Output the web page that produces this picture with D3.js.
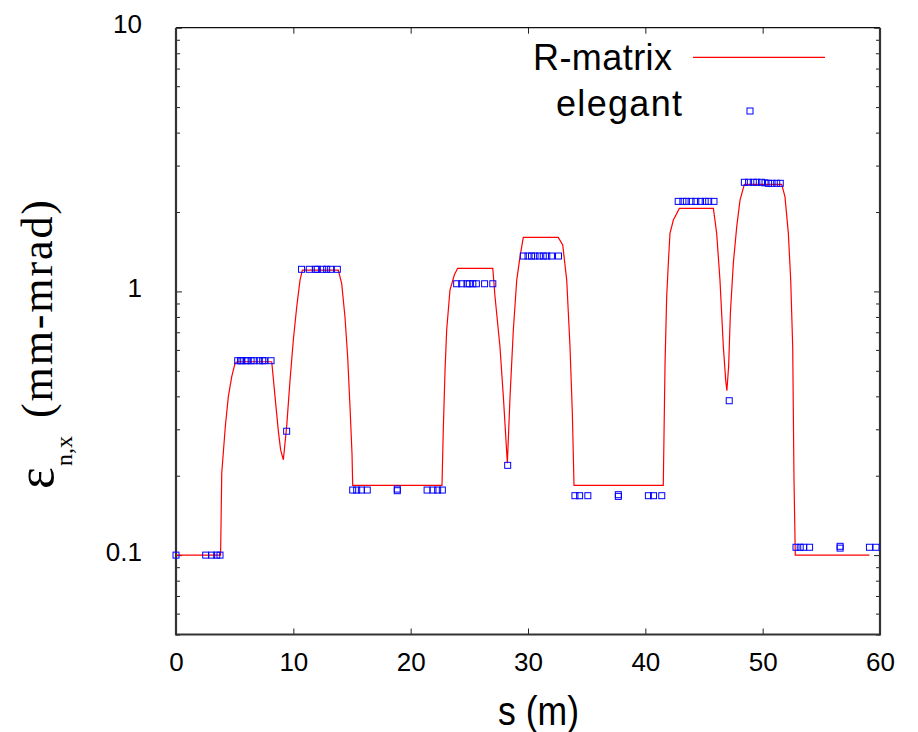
<!DOCTYPE html>
<html>
<head>
<meta charset="utf-8">
<script src="https://cdn.jsdelivr.net/npm/d3@7"></script>
<style>
  body { margin: 0; background: #fff; }
  svg { display: block; }
</style>
</head>
<body>
<div id="chart"></div>
<script>
// R-matrix curve (s in m, emittance in mm-mrad)
var rmatrixS = [0, 3.8, 3.9, 4.2, 4.46, 4.75, 5.03, 5.2, 8.16, 8.44, 8.72, 8.92, 9.15, 9.43, 9.72, 10.0, 10.29, 10.57, 10.77,
  13.83, 14.12, 14.4, 14.63, 14.83, 15.0, 15.06, 22.67, 22.78, 22.93, 23.07, 23.35, 23.72, 24.0, 27.0, 27.19, 27.61, 27.9,
  28.24, 28.47, 28.75, 29.04, 29.32, 29.6, 32.58, 32.96, 33.3, 33.58, 33.78, 33.92, 41.53, 41.68, 41.82, 41.96, 42.1, 42.39,
  42.9, 45.8, 46.08, 46.36, 46.65, 46.85, 46.95, 47.1, 47.25, 47.5, 47.79, 48.07, 48.44, 51.62, 51.9, 52.19, 52.39, 52.56,
  52.67, 52.78, 59.1];
var rmatrixE = [0.1, 0.1, 0.205, 0.306, 0.399, 0.475, 0.534, 0.541, 0.541, 0.399, 0.296, 0.25, 0.23, 0.307, 0.461, 0.654, 0.875, 1.104, 1.205,
  1.205, 1.073, 0.802, 0.565, 0.365, 0.243, 0.184, 0.184, 0.298, 0.503, 0.714, 1.012, 1.154, 1.223, 1.223, 0.954, 0.617, 0.399,
  0.223, 0.399, 0.714, 1.104, 1.354, 1.603, 1.603, 1.499, 1.104, 0.617, 0.345, 0.184, 0.184, 0.534, 0.954, 1.279, 1.66, 1.865,
  2.065, 2.065, 1.66, 1.104, 0.617, 0.46, 0.42, 0.52, 0.83, 1.28, 1.76, 2.22, 2.547, 2.547, 2.286, 1.66, 1.104, 0.617,
  0.193, 0.1, 0.1];

// elegant points
var elegantS = [0, 2.53, 3.04, 3.47, 3.75,
  5.26, 5.5, 5.62, 5.97, 6.08, 6.4, 6.67, 7.1, 7.39, 7.53, 8.1,
  9.43,
  10.7, 11.36, 11.9, 12.04, 12.5, 12.84, 13.18, 13.75,
  15.06, 15.4, 15.8, 16.3, 18.86, 18.86, 21.4, 21.9, 22.3, 22.7,
  23.92, 24.35, 24.8, 25.0, 25.3, 25.6, 26.3, 27.0,
  28.27,
  29.6, 30.0, 30.3, 30.6, 30.97, 31.3, 31.6, 32.0, 32.6,
  34.0, 34.4, 35.1, 37.7, 37.7, 40.26, 40.7, 41.4,
  42.8, 43.2, 43.5, 43.9, 44.3, 44.7, 45.1, 45.4, 45.85,
  47.15,
  48.44, 48.8, 49.2, 49.5, 49.9, 50.2, 50.5, 50.8, 51.2, 51.5,
  52.84, 53.2, 53.5, 54.0, 56.6, 56.6, 59.1, 59.66];
var elegantE = [0.1, 0.1, 0.1, 0.1, 0.1,
  0.546, 0.546, 0.546, 0.546, 0.546, 0.546, 0.546, 0.546, 0.546, 0.546, 0.546,
  0.295,
  1.213, 1.213, 1.213, 1.213, 1.213, 1.213, 1.213, 1.213,
  0.1765, 0.1765, 0.1765, 0.1765, 0.1755, 0.178, 0.1765, 0.1765, 0.1765, 0.1765,
  1.069, 1.069, 1.069, 1.069, 1.069, 1.069, 1.069, 1.069,
  0.219,
  1.362, 1.362, 1.362, 1.362, 1.362, 1.362, 1.362, 1.362, 1.362,
  0.168, 0.168, 0.168, 0.167, 0.1695, 0.168, 0.168, 0.168,
  2.195, 2.195, 2.195, 2.195, 2.195, 2.195, 2.195, 2.195, 2.195,
  0.385,
  2.593, 2.593, 2.593, 2.593, 2.593, 2.58, 2.57, 2.57, 2.57, 2.57,
  0.1071, 0.1071, 0.1071, 0.1071, 0.1063, 0.108, 0.1071, 0.1071];

var xTicks = [0, 10, 20, 30, 40, 50, 60];
var yMajor = [0.1, 1, 10];
var yMinor = [0.05, 0.06, 0.07, 0.08, 0.09, 0.2, 0.3, 0.4, 0.5, 0.6, 0.7, 0.8, 0.9, 2, 3, 4, 5, 6, 7, 8, 9];
var legendNames = ["R-matrix", "elegant"];

var width = 918, height = 732;
var margin = { left: 176, right: 880, top: 27.7, bottom: 634.5 };
var sans = "'Liberation Sans', Arial, sans-serif";
var serif = "'Liberation Serif', 'Times New Roman', serif";

var svg = d3.select("#chart").append("svg")
    .attr("width", width)
    .attr("height", height)
    .style("background", "#fff");

var x = d3.scaleLinear().domain([0, 60]).range([margin.left, margin.right]);
var y = d3.scaleLog().domain([0.05, 10]).range([margin.bottom, margin.top]);

function plainTicks(g) {
    g.select(".domain").remove();
    g.selectAll("line").attr("stroke", "#222");
}

// axes (ticks pointing inward)
svg.append("g")
    .attr("transform", "translate(0," + margin.bottom + ")")
    .call(d3.axisBottom(x).tickValues(xTicks).tickSize(-6).tickPadding(18).tickFormat(d3.format("d")))
    .call(function (g) {
        plainTicks(g);
        g.attr("font-size", null).attr("font-family", null);
        g.selectAll("text").style("font-family", sans).style("font-size", "26px").attr("fill", "#000");
        g.selectAll(".tick").filter(function (d) { return d === 0 || d === 60; }).select("line").remove();
    });

svg.append("g")
    .attr("transform", "translate(0," + margin.top + ")")
    .call(d3.axisTop(x).tickValues(xTicks.slice(1, -1)).tickSize(-6).tickFormat(""))
    .call(plainTicks);

svg.append("g")
    .attr("transform", "translate(" + margin.left + ",0)")
    .call(d3.axisLeft(y).tickValues(yMajor).tickSize(-6).tickPadding(34).tickFormat(d3.format("~g")))
    .call(function (g) {
        plainTicks(g);
        g.attr("font-size", null).attr("font-family", null);
        g.selectAll("text").style("font-family", sans).style("font-size", "26px").attr("fill", "#000").attr("dy", "0.2em");
    });

svg.append("g")
    .attr("transform", "translate(" + margin.left + ",0)")
    .call(d3.axisLeft(y).tickValues(yMinor).tickSize(-4).tickFormat(""))
    .call(plainTicks);

svg.append("g")
    .attr("transform", "translate(" + margin.right + ",0)")
    .call(d3.axisRight(y).tickValues(yMajor).tickSize(-6).tickFormat(""))
    .call(plainTicks);

svg.append("g")
    .attr("transform", "translate(" + margin.right + ",0)")
    .call(d3.axisRight(y).tickValues(yMinor).tickSize(-4).tickFormat(""))
    .call(plainTicks);

// frame
svg.append("line").attr("x1", margin.left).attr("x2", margin.right).attr("y1", margin.top).attr("y2", margin.top)
    .attr("stroke", "#111").attr("stroke-width", 1.2);
svg.append("line").attr("x1", margin.left).attr("x2", margin.right).attr("y1", margin.bottom).attr("y2", margin.bottom)
    .attr("stroke", "#333").attr("stroke-width", 2.2);
svg.append("line").attr("x1", margin.left).attr("x2", margin.left).attr("y1", margin.top).attr("y2", margin.bottom + 1)
    .attr("stroke", "#333").attr("stroke-width", 2.2);
svg.append("line").attr("x1", margin.right).attr("x2", margin.right).attr("y1", margin.top).attr("y2", margin.bottom + 1)
    .attr("stroke", "#333").attr("stroke-width", 2.2);

// R-matrix line
var lineData = rmatrixS.map(function (s, i) { return [s, rmatrixE[i]]; });
svg.append("path")
    .datum(lineData)
    .attr("fill", "none")
    .attr("stroke", "#ff0000")
    .attr("stroke-width", 1.2)
    .attr("d", d3.line().x(function (d) { return x(d[0]); }).y(function (d) { return y(d[1]); }));

// elegant squares
var pts = elegantS.map(function (s, i) { return [s, elegantE[i]]; });
var sq = 6;
svg.selectAll(".pt")
    .data(pts)
    .enter().append("rect")
    .attr("class", "pt")
    .attr("x", function (d) { return x(d[0]) - sq / 2; })
    .attr("y", function (d) { return y(d[1]) - sq / 2; })
    .attr("width", sq)
    .attr("height", sq)
    .attr("fill", "none")
    .attr("stroke", "#0000ff")
    .attr("stroke-width", 1);

// legend
svg.append("text")
    .attr("x", 672).attr("y", 70)
    .attr("text-anchor", "end")
    .style("font-family", sans).style("font-size", "36px")
    .attr("textLength", 139)
    .text(legendNames[0]);
svg.append("line")
    .attr("x1", 693).attr("x2", 825).attr("y1", 57.3).attr("y2", 57.3)
    .attr("stroke", "#ff0000").attr("stroke-width", 1.2);
svg.append("text")
    .attr("x", 682).attr("y", 116)
    .attr("text-anchor", "end")
    .style("font-family", sans).style("font-size", "36px")
    .attr("textLength", 126)
    .text(legendNames[1]);
svg.append("rect")
    .attr("x", 750 - sq / 2).attr("y", 111 - sq / 2)
    .attr("width", sq).attr("height", sq)
    .attr("fill", "none").attr("stroke", "#0000ff").attr("stroke-width", 1);

// axis titles
svg.append("text")
    .attr("x", 498).attr("y", 725)
    .style("font-family", sans).style("font-size", "40px")
    .attr("textLength", 81)
    .attr("lengthAdjust", "spacingAndGlyphs")
    .text("s (m)");

svg.append("text")
    .attr("transform", "translate(53,489) rotate(-90)")
    .style("font-family", serif).style("font-size", "52px")
    .text("ε");
svg.append("text")
    .attr("transform", "translate(72,466) rotate(-90)")
    .style("font-family", serif).style("font-size", "24px")
    .text("n,x");
svg.append("text")
    .attr("transform", "translate(52,418) rotate(-90)")
    .style("font-family", serif).style("font-size", "44px")
    .attr("textLength", 218)
    .text("(mm-mrad)");
</script>
</body>
</html>
